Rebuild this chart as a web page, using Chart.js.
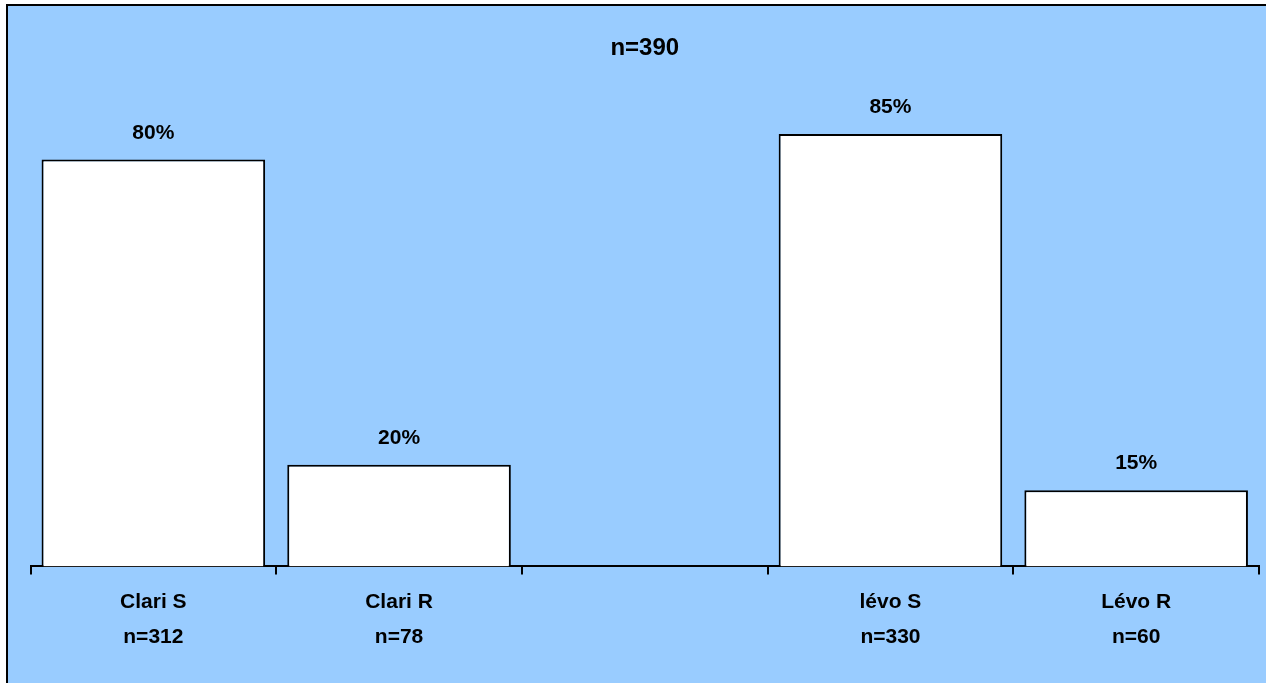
<!DOCTYPE html>
<html>
<head>
<meta charset="utf-8">
<script src="https://cdn.jsdelivr.net/npm/chart.js"></script>
<style>
  html, body { margin: 0; padding: 0; background: #ffffff; overflow: hidden; }
  #frame {
    position: absolute; left: 6px; top: 4px;
    width: 1300px; height: 720px;
    border-left: 2px solid #000; border-top: 2px solid #000;
    background: #99ccff;
  }
  #wrap { position: absolute; left: 0; top: 0; width: 1274px; height: 700px; }
</style>
</head>
<body>
<div id="frame">
  <div id="wrap"><canvas id="myChart"></canvas></div>
</div>
<script>
// data
var categories = [['Clari S', 'n=312'], ['Clari R', 'n=78'], '', ['lévo S', 'n=330'], ['Lévo R', 'n=60']];
var percent_values = [80, 20, null, 85, 15];
var title_text = 'n=390';

// labels on top of bars
const barLabels = {
    id: 'barLabels',
    afterDatasetsDraw(chart) {
        const ctx = chart.ctx;
        const meta = chart.getDatasetMeta(0);
        ctx.save();
        ctx.font = 'bold 21px "Liberation Sans", Arial, sans-serif';
        ctx.fillStyle = '#000';
        ctx.textAlign = 'center';
        ctx.textBaseline = 'alphabetic';
        meta.data.forEach(function (bar, i) {
            var v = percent_values[i];
            if (v == null) return;
            ctx.fillText(v + '%', bar.x, bar.y - 21);
        });
        ctx.restore();
    }
};

const ctx = document.getElementById('myChart').getContext('2d');
const myChart = new Chart(ctx, {
    type: 'bar',
    data: {
        labels: categories,
        datasets: [{
            data: percent_values,
            backgroundColor: '#ffffff',
            borderColor: '#000000',
            borderWidth: 2,
            barPercentage: 0.91,
            categoryPercentage: 1.0
        }]
    },
    options: {
        responsive: true,
        maintainAspectRatio: false,
        animation: false,
        layout: { padding: { left: 22.5, right: 23, top: 0, bottom: 41.5 } },
        plugins: {
            legend: { display: false },
            tooltip: { enabled: false },
            title: {
                display: true,
                text: title_text,
                color: '#000',
                font: { family: '"Liberation Sans", Arial, sans-serif', size: 24, weight: 'bold' },
                padding: { top: 28, bottom: -5 }
            }
        },
        scales: {
            x: {
                grid: {
                    display: true,
                    drawOnChartArea: false,
                    drawTicks: true,
                    tickLength: 8,
                    color: '#000',
                    lineWidth: 2,
                    offset: true
                },
                border: { display: true, color: '#000', width: 2 },
                ticks: {
                    color: '#000',
                    padding: 10,
                    font: { family: '"Liberation Sans", Arial, sans-serif', size: 21, weight: 'bold', lineHeight: 1.667 }
                }
            },
            y: {
                display: false,
                min: 0,
                max: 100
            }
        }
    },
    plugins: [barLabels]
});
</script>
</body>
</html>
